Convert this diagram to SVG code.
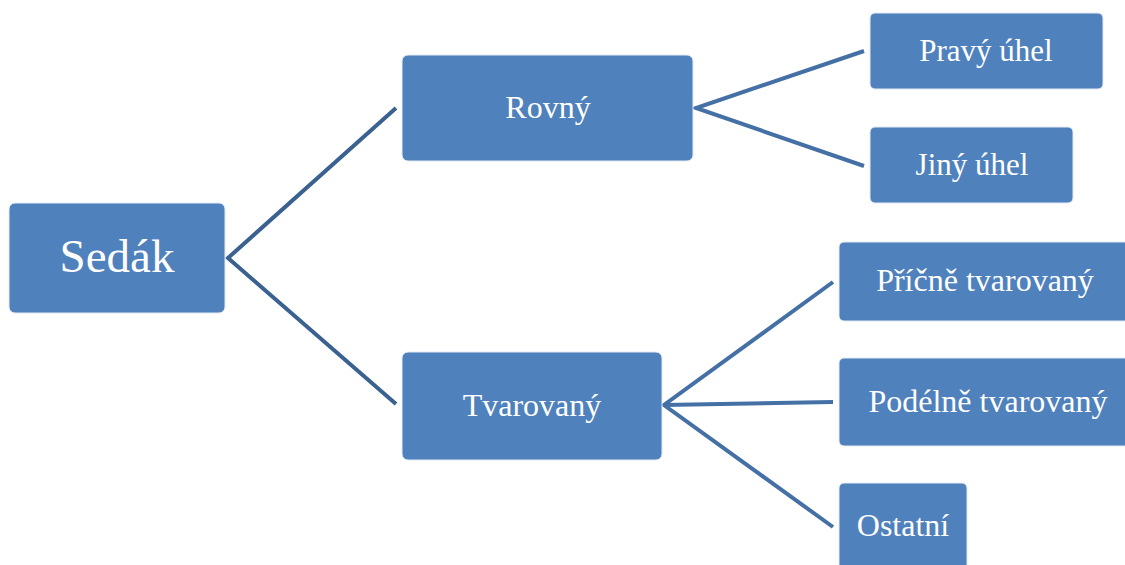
<svg xmlns="http://www.w3.org/2000/svg" width="1125" height="565" viewBox="0 0 1125 565">
<style>
.box{fill:#4f81bd;stroke:#e4ebf4;stroke-width:1}
.lbl{font-family:"Liberation Serif","Times New Roman",serif;fill:#ffffff;text-anchor:middle}
.c{fill:none;stroke:#4570a6;stroke-width:4;stroke-linecap:butt;stroke-linejoin:miter}
.c0{stroke:#3b6190}
</style>
<rect width="1125" height="565" fill="#ffffff"/>
<g id="connectors">
<polyline class="c c0" points="396,108 228,258 396,404"/>
<polyline class="c" points="864,51 696,108 864,166"/>
<polyline class="c" points="833,282 664,405 833,527"/>
<line class="c" x1="664" y1="405" x2="833" y2="402"/>
</g>
<g id="sedak"><rect class="box" x="9" y="203" width="216" height="110" rx="6"/><text class="lbl" x="117" y="272" font-size="47">Sedák</text></g>
<g id="rovny"><rect class="box" x="402" y="55" width="291" height="106" rx="6"/><text class="lbl" x="548" y="118" font-size="32">Rovný</text></g>
<g id="tvarovany"><rect class="box" x="402" y="352" width="260" height="108" rx="6"/><text class="lbl" x="532" y="416" font-size="32">Tvarovaný</text></g>
<g id="pravy"><rect class="box" x="870" y="13" width="233" height="76" rx="5"/><text class="lbl" x="986" y="61" font-size="31">Pravý úhel</text></g>
<g id="jiny"><rect class="box" x="870" y="127" width="203" height="76" rx="5"/><text class="lbl" x="972" y="175" font-size="31">Jiný úhel</text></g>
<g id="pricne"><rect class="box" x="839" y="242" width="292" height="79" rx="5"/><text class="lbl" x="985" y="291" font-size="32">Příčně tvarovaný</text></g>
<g id="podelne"><rect class="box" x="839" y="358" width="292" height="88" rx="5"/><text class="lbl" x="988" y="412" font-size="32">Podélně tvarovaný</text></g>
<g id="ostatni"><rect class="box" x="839" y="483" width="128" height="90" rx="5"/><text class="lbl" x="903" y="536" font-size="32">Ostatní</text></g>
</svg>
